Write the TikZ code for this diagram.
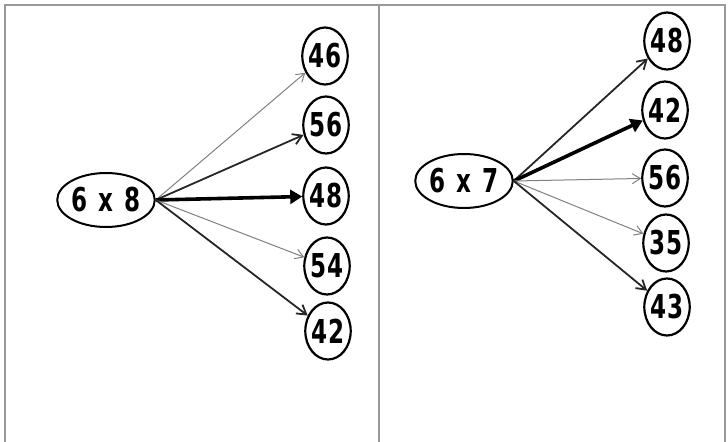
\documentclass[tikz,border=0pt]{standalone}
\usepackage{fontspec}
\newfontfamily\numfont{DejaVu Sans Condensed}[BoldFont={DejaVu Sans Condensed Bold},BoldFeatures={FakeStretch=0.78}]
\usetikzlibrary{shapes.geometric,arrows.meta}
\begin{document}
\begin{tikzpicture}[x=1bp,y=-1bp,
  frameline/.style={draw=black!40,line width=1.4bp},
  prod/.style={ellipse,draw,line width=2bp,minimum width=96bp,minimum height=54bp,inner sep=0pt,font=\numfont\bfseries\fontsize{33}{33}\selectfont},
  answer/.style={ellipse,draw,line width=2.2bp,minimum width=43bp,minimum height=57bp,inner sep=0pt,font=\numfont\bfseries\fontsize{33}{33}\selectfont},
  faint/.style={draw=black!50,line width=1bp,-{Straight Barb[length=8bp,width=10bp]}},
  mid/.style={draw=black!85,line width=1.8bp,-{Straight Barb[length=9bp,width=11bp]}},
  strong/.style={draw=black,line width=3.6bp,-{Triangle[length=12bp,width=14bp]}}]
\useasboundingbox (0,0) rectangle (728,442);
% table frame
\draw[frameline] (5,442) -- (5,5) -- (725,5) -- (725,442);
\draw[frameline] (379,5) -- (379,442);

% left panel
\node[prod] (p8) at (106,200) {6\hspace{11bp}x\hspace{11bp}8};
\node[answer] (a46) at (325,56) {46};
\node[answer] (a56) at (326,125) {56};
\node[answer] (a48) at (326,196) {48};
\node[answer] (a54) at (327,266) {54};
\node[answer] (a42) at (328,331) {42};
\draw[faint] (p8.east) -- (a46);
\draw[mid] (p8.east) -- (a56);
\draw[strong] (p8.east) -- (a48);
\draw[faint] (p8.east) -- (a54);
\draw[mid] (p8.east) -- (a42);

% right panel
\node[prod] (p7) at (464,181) {6\hspace{11bp}x\hspace{11bp}7};
\node[answer] (b48) at (667,41) {48};
\node[answer] (b42) at (665,110) {42};
\node[answer] (b56) at (665,178) {56};
\node[answer] (b35) at (666,243) {35};
\node[answer] (b43) at (667,307) {43};
\draw[mid] (p7.east) -- (b48);
\draw[strong] (p7.east) -- (b42);
\draw[faint] (p7.east) -- (b56);
\draw[faint] (p7.east) -- (b35);
\draw[mid] (p7.east) -- (b43);
\end{tikzpicture}
\end{document}
